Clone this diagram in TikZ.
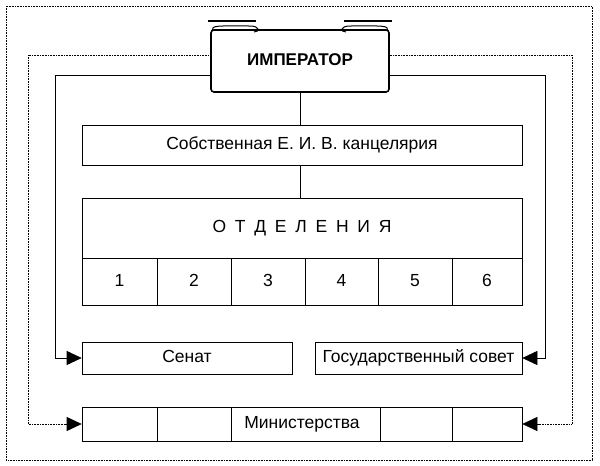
\documentclass[tikz,border=0pt]{standalone}
\usepackage{fontspec}
\setmainfont{Liberation Sans}
\usetikzlibrary{arrows.meta}
\begin{document}
\begin{tikzpicture}[x=1pt,y=-1pt,
  bx/.style={draw,line width=0.6pt,inner sep=0pt,text height=12pt,text depth=3pt},
  lnk/.style={line width=0.6pt},
  dlnk/.style={line width=0.6pt,densely dotted},
  arr/.style={-{Triangle[length=15pt,width=14pt]}},
  txt/.style={font=\fontsize{17.5}{20}\selectfont}]
\useasboundingbox (0,0) rectangle (600,466);
\draw[densely dotted,line width=0.6pt] (6,6) rectangle (592,460);
% emperor scroll tabs
\draw[line width=1.4pt] (208,21) -- (256,21);
\draw[line width=1pt] (212,31) .. controls (212,25) and (216,26) .. (250,26) .. controls (260,26) and (260,32) .. (254,32);
\draw[line width=1.4pt] (344,21) -- (392,21);
\draw[line width=1pt] (388,31) .. controls (388,25) and (384,26) .. (350,26) .. controls (340,26) and (340,32) .. (346,32);
\node[bx,line width=1.6pt,rounded corners=3pt,minimum width=178pt,minimum height=62pt,font=\fontsize{17}{20}\selectfont\bfseries] (emp) at (300,61) {ИМПЕРАТОР};
\node[bx,minimum width=440pt,minimum height=40pt,txt] (kanc) at (302,145) {Собственная Е. И. В. канцелярия};
\node[bx,minimum width=440pt,minimum height=60pt,txt] (otd) at (302,228) {О\,\,\,Т\,\,\,Д\,\,\,Е\,\,\,Л\,\,\,Е\,\,\,Н\,\,\,И\,\,\,Я};
\foreach \i/\a/\b in {1/82/157,2/157/231,3/231/305,4/305/378,5/378/452,6/452/522}{
  \node[bx,minimum width={\b-\a},minimum height=47pt,txt] (c\i) at ({(\a+\b)/2},281.5) {\i};}
\node[bx,minimum width=210pt,minimum height=32pt,txt] (sen) at (187,358) {Сенат};
\node[bx,minimum width=207pt,minimum height=32pt,txt] (gos) at (418.5,358) {Государственный совет};
\node[bx,minimum width=440pt,minimum height=34pt,txt] (min) at (302,424) {Министерства};
\draw[lnk] (157,407) -- (157,441) (231,407) -- (231,441) (380,407) -- (380,441) (452,407) -- (452,441);
\draw[lnk] (emp.south) -- (kanc.north -| emp.south);
\draw[lnk] (kanc.south -| emp.south) -- (otd.north -| emp.south);
% links
\draw[lnk,arr] (emp.west |- 0,75) -| (55,358) -- (sen.west);
\draw[lnk,arr] (emp.east |- 0,75) -| (545,358) -- (gos.east);
\draw[dlnk] (emp.west |- 0,55) -| (28,424) -- (64,424);
\draw[dlnk] (emp.east |- 0,55) -| (572,424) -- (540,424);
\draw[lnk,arr] (64,424) -- (min.west);
\draw[lnk,arr] (540,424) -- (min.east);
\end{tikzpicture}
\end{document}
